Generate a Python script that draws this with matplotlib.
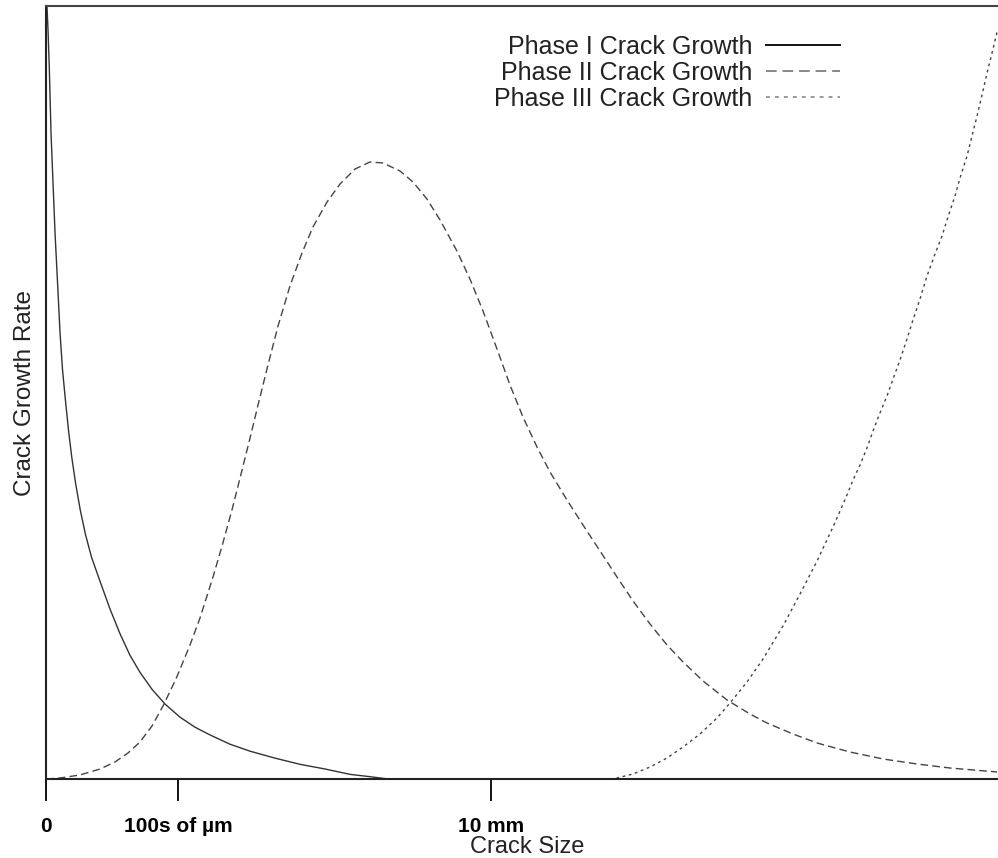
import matplotlib
matplotlib.use("Agg")
import matplotlib.pyplot as plt

plt.rcParams["font.family"] = ["Liberation Sans", "DejaVu Sans"]

# crack size (arbitrary units, 0-100) and growth rate (0-100, normalised)
phase1_x = [0.10, 0.21, 0.34, 0.52, 0.73, 0.94, 1.20, 1.46, 1.72, 2.02, 2.34, 2.67,
            3.07, 3.56, 4.11, 4.73, 5.61, 6.65, 7.69, 8.73, 9.77, 11.02, 12.37,
            13.93, 15.49, 17.05, 19.13, 21.21, 23.80, 26.40, 28.98, 31.60, 33.68, 35.55]
phase1_y = [100.0, 96.9, 92.1, 83.6, 77.1, 70.6, 64.2, 57.7, 52.9, 49.0, 45.1, 41.7,
            38.3, 34.8, 31.6, 28.7, 25.6, 22.0, 18.8, 16.0, 13.8, 11.6, 9.7,
            8.0, 6.7, 5.7, 4.5, 3.6, 2.7, 1.9, 1.3, 0.6, 0.3, 0.0]

phase2_x = [0.00, 1.46, 3.53, 5.61, 7.17, 8.52, 9.77, 11.02, 12.16, 13.51, 14.97, 16.01,
            17.36, 18.30, 19.33, 20.17, 21.21, 22.04, 22.97, 24.12, 25.36, 26.61,
            27.75, 29.21, 30.56, 32.12, 33.68, 35.03, 36.80, 38.15, 39.60, 40.96,
            42.72, 44.07, 45.43, 46.88, 48.23, 49.58, 51.04, 52.39, 54.16, 55.82,
            57.59, 59.36, 61.02, 62.79, 64.55, 66.22, 68.30, 70.79, 73.18, 74.95,
            77.65, 80.15, 83.58, 87.01, 90.54, 93.97, 98.86]
phase2_y = [0.00, 0.13, 0.52, 1.29, 2.20, 3.36, 4.79, 6.86, 9.44, 12.94, 17.34, 20.83,
            26.13, 30.14, 34.80, 38.94, 44.11, 48.38, 53.04, 58.60, 63.78, 68.05,
            71.41, 74.64, 76.97, 78.91, 79.82, 79.69, 78.65, 77.23, 75.03, 72.32,
            68.30, 64.68, 60.54, 55.63, 50.97, 46.83, 42.95, 39.72, 36.09, 32.86,
            29.50, 26.13, 23.03, 20.05, 17.34, 15.14, 12.68, 10.22, 8.41, 7.24,
            5.82, 4.66, 3.49, 2.59, 1.94, 1.42, 0.91]

phase3_x = [58.63, 59.36, 61.02, 62.79, 64.55, 66.22, 67.98, 69.75, 71.10, 72.87,
            74.53, 76.61, 78.38, 80.15, 81.81, 82.54, 83.26, 83.89, 84.62, 85.34,
            85.97, 86.69, 87.42, 88.05, 88.77, 89.50, 90.12, 90.85, 91.58, 92.41,
            93.14, 93.76, 94.49, 95.01, 95.74, 96.26, 96.78, 97.30, 97.82, 98.34, 98.86]
phase3_y = [0.00, 0.13, 0.65, 1.55, 2.72, 4.14, 5.82, 7.89, 9.83, 12.55,
            15.52, 19.79, 23.93, 28.20, 32.60, 34.67, 36.74, 38.68, 40.62, 42.82,
            45.02, 47.35, 49.55, 51.75, 54.20, 56.92, 59.38, 62.10, 65.07, 67.92,
            70.25, 72.70, 75.42, 77.75, 80.59, 83.18, 85.77, 88.49, 91.33, 93.92, 96.64]

tick_pos = [0, 13.72, 46.26]
tick_labels = ["0", "100s of µm", "10 mm"]

fig = plt.figure(figsize=(9.98, 8.58), dpi=100)
ax = fig.add_axes([46 / 998, 79 / 858, 962 / 998, 773 / 858])

ax.plot(phase1_x, phase1_y, color="#333333", lw=1.0, label="Phase I Crack Growth")
ax.plot(phase2_x, phase2_y, color="#444444", lw=1.0, dashes=(5.5, 3.0),
        label="Phase II Crack Growth")
ax.plot(phase3_x, phase3_y, color="#444444", lw=1.0, dashes=(2.0, 2.6),
        label="Phase III Crack Growth")

ax.set_xlim(0, 100)
ax.set_ylim(0, 100)

ax.set_xticks(tick_pos)
ax.set_xticklabels(tick_labels, fontsize=15, fontweight="bold")
ax.tick_params(axis="x", direction="out", length=16, width=1.4, pad=11, color="#111111")
ax.set_yticks([])

for side in ["top", "left", "bottom", "right"]:
    ax.spines[side].set_linewidth(1.5)
ax.spines["top"].set_color("#444444")
ax.spines["left"].set_color("#222222")
ax.spines["bottom"].set_color("#222222")

ax.set_xlabel("Crack Size", fontsize=17, color="#222222")
ax.xaxis.set_label_coords(0.5, -57 / 773)
ax.set_ylabel("Crack Growth Rate", fontsize=17.5, color="#222222")
ax.yaxis.set_label_coords(-10 / 962, 0.5)

leg = ax.legend(loc="upper right", bbox_to_anchor=(840 / 998, 1 - 35 / 858),
                bbox_transform=fig.transFigure, frameon=False, markerfirst=False,
                fontsize=18, handlelength=2.96, handletextpad=0.56,
                labelspacing=0.08, borderpad=0, borderaxespad=0)
for txt in leg.get_texts():
    txt.set_color("#222222")
leg_colors = ["#111111", "#888888", "#999999"]
for h, c in zip(leg.legend_handles, leg_colors):
    h.set_color(c)
    h.set_linewidth(1.4)

fig.savefig("out.png", dpi=100)
